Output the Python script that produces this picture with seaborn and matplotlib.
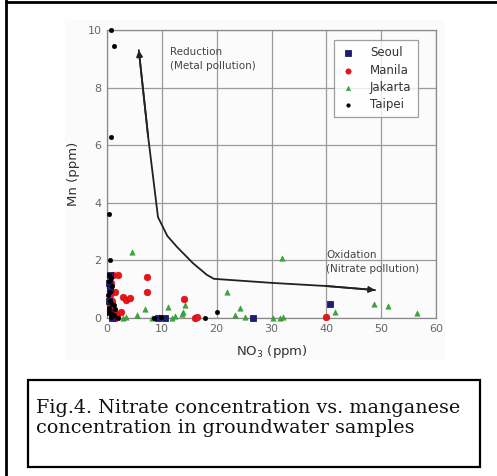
import matplotlib
matplotlib.use("Agg")
import matplotlib.pyplot as plt
import seaborn as sns
import pandas as pd
from matplotlib.patches import Rectangle
from matplotlib.lines import Line2D

# ---------------- data ----------------
cities = ["Seoul", "Manila", "Jakarta", "Taipei"]

seoul_x = [0.5, 0.5, 0.6, 0.4, 9.3, 10.6, 26.6, 40.7, 1.0, 0.3]
seoul_y = [1.5, 1.0, 0.2, 0.6, 0.0, 0.0, 0.0, 0.48, 0.0, 1.2]

manila_x = [1.1, 2.0, 0.8, 1.5, 7.3, 7.3, 2.9, 3.5, 4.2, 14.0, 16.0, 16.4, 40.0,
            0.5, 1.2, 1.8, 0.9, 2.5, 1.4, 0.6]
manila_y = [1.5, 1.5, 1.2, 0.9, 1.42, 0.9, 0.73, 0.62, 0.7, 0.66, 0.0, 0.05, 0.05,
            0.4, 0.25, 0.1, 0.6, 0.2, 0.0, 0.8]

jakarta_x = [4.6, 21.9, 32.0, 48.7, 51.3, 56.6, 41.6, 23.4, 24.3, 25.2, 30.3, 31.6,
             32.1, 13.9, 14.2, 12.4, 11.2, 6.9, 2.9, 13.6, 8.2, 9.5, 3.5, 5.5, 11.8]
jakarta_y = [2.3, 0.9, 2.1, 0.48, 0.4, 0.17, 0.2, 0.1, 0.35, 0.05, 0.0, 0.0,
             0.05, 0.2, 0.45, 0.07, 0.38, 0.3, 0.0, 0.15, 0.0, 0.02, 0.05, 0.1, 0.0]

taipei_x = [0.7, 1.3, 0.7, 0.4, 0.5, 0.3, 0.6, 1.0, 0.4, 0.8, 1.2, 0.5, 1.5, 2.0,
            0.3, 8.5, 9.8, 17.9, 20.0, 1.0, 0.2, 0.9, 0.4, 1.3, 0.7]
taipei_y = [10.0, 9.45, 6.3, 3.6, 2.0, 1.3, 0.9, 0.5, 0.2, 0.05, 0.1, 0.6, 0.3, 0.0,
            1.5, 0.0, 0.05, 0.0, 0.2, 0.15, 0.8, 1.1, 0.35, 0.45, 1.4]

trend_x = [5.8, 7.5, 9.3, 9.7, 11.0, 12.8, 15.7, 18.2, 19.5, 30.0, 40.0, 48.9]
trend_y = [9.3, 6.3, 3.5, 3.35, 2.85, 2.46, 1.9, 1.5, 1.36, 1.22, 1.11, 0.97]

x_ticks = [0, 10, 20, 30, 40, 50, 60]
y_ticks = [0, 2, 4, 6, 8, 10]

caption = "Fig.4. Nitrate concentration vs. manganese\nconcentration in groundwater samples"

# ---------------- figure ----------------
sns.set_style("white")
plt.rcParams["font.family"] = ["DejaVu Sans"]

fig = plt.figure(figsize=(4.97, 4.76), dpi=100)
W, H = 497, 476

def fx(px):
    return px / W

def fy(py):
    return 1 - py / H

# faint scanned-image background
fig.patches.append(Rectangle((fx(65), fy(360)), fx(445) - fx(65), fy(20) - fy(360),
                             transform=fig.transFigure, facecolor="#fbfbfb",
                             edgecolor="none", zorder=-5))

# outer frame lines (left + top)
fig.add_artist(Line2D([fx(6), fx(6)], [0, 1], transform=fig.transFigure,
                      color="black", lw=2))
fig.add_artist(Line2D([fx(6), 1], [fy(1.5), fy(1.5)], transform=fig.transFigure,
                      color="black", lw=2))

# caption box
fig.patches.append(Rectangle((fx(28), fy(467)), fx(480) - fx(28), fy(380) - fy(467),
                             transform=fig.transFigure, facecolor="white",
                             edgecolor="black", lw=1.6, zorder=-4))
fig.text(fx(36), fy(399), caption, ha="left", va="top", fontsize=13.8,
         family="DejaVu Serif", linespacing=1.15, color="#111111")

ax = fig.add_axes([fx(107), fy(318), fx(436) - fx(107), fy(30) - fy(318)])
ax.set_zorder(3)
ax.set_facecolor("none")

df = pd.concat([
    pd.DataFrame({"NO3": seoul_x, "Mn": seoul_y, "city": "Seoul"}),
    pd.DataFrame({"NO3": manila_x, "Mn": manila_y, "city": "Manila"}),
    pd.DataFrame({"NO3": jakarta_x, "Mn": jakarta_y, "city": "Jakarta"}),
    pd.DataFrame({"NO3": taipei_x, "Mn": taipei_y, "city": "Taipei"}),
], ignore_index=True)

styles = {
    "Seoul": dict(color="#1c1c7a", marker="s", s=24, edgecolor="#0a0a40", linewidth=0.5),
    "Manila": dict(color="#e8141c", marker="o", s=24, edgecolor="#c00000", linewidth=0.3),
    "Jakarta": dict(color="#3aa83a", marker="^", s=15, edgecolor="#2a8a2a", linewidth=0.3),
    "Taipei": dict(color="#000000", marker="o", s=11, edgecolor="black", linewidth=0.3),
}
draw_order = ["Jakarta", "Manila", "Seoul", "Taipei"]
for c in draw_order:
    sub = df[df["city"] == c]
    sns.scatterplot(data=sub, x="NO3", y="Mn", ax=ax, label=c, clip_on=False,
                    zorder=3, **styles[c])

ax.set_xlim(0, 60)
ax.set_ylim(0, 10)
ax.set_xticks(x_ticks)
ax.set_yticks(y_ticks)
ax.grid(True, color="#9a9a9a", lw=0.9)
ax.set_axisbelow(True)
for sp in ax.spines.values():
    sp.set_color("#8a8a8a")
    sp.set_linewidth(0.9)
ax.tick_params(axis="both", length=0, labelsize=8, labelcolor="#666666", pad=4)
ax.set_xlabel("NO$_3$ (ppm)", fontsize=9.5, color="#333333", labelpad=7)
ax.set_ylabel("Mn (ppm)", fontsize=9.5, color="#333333", labelpad=5)

# trend curve with arrowheads
ax.plot(trend_x, trend_y, color="#222222", lw=1.3, zorder=4, solid_capstyle="round")
ax.annotate("", xy=(trend_x[0], trend_y[0]), xytext=(trend_x[1], trend_y[1]),
            arrowprops=dict(arrowstyle="-|>", color="#222222", lw=1.3,
                            mutation_scale=9, shrinkA=0, shrinkB=0), zorder=5)
ax.annotate("", xy=(trend_x[-1], trend_y[-1]), xytext=(trend_x[-2], trend_y[-2]),
            arrowprops=dict(arrowstyle="-|>", color="#222222", lw=1.3,
                            mutation_scale=9, shrinkA=0, shrinkB=0), zorder=5)

ax.text(11.5, 9.4, "Reduction\n(Metal pollution)", fontsize=7.5, color="#444444",
        ha="left", va="top", linespacing=1.5)
ax.text(40.0, 2.35, "Oxidation\n(Nitrate pollution)", fontsize=7.5, color="#444444",
        ha="left", va="top", linespacing=1.5)

# legend
handles, labels = ax.get_legend_handles_labels()
order = [labels.index(c) for c in cities]
leg = ax.legend([handles[i] for i in order], [labels[i] for i in order],
                loc="upper left", bbox_to_anchor=((334 - 107) / 329, 1 - (40 - 30) / 288),
                borderaxespad=0, fontsize=8.5, frameon=True, fancybox=False,
                edgecolor="#888888", borderpad=0.55, labelspacing=0.35,
                handletextpad=1.3, handlelength=1.2, markerscale=0.8)
leg.get_frame().set_linewidth(0.9)
for t in leg.get_texts():
    t.set_color("#333333")

fig.savefig("out.png", dpi=100)
